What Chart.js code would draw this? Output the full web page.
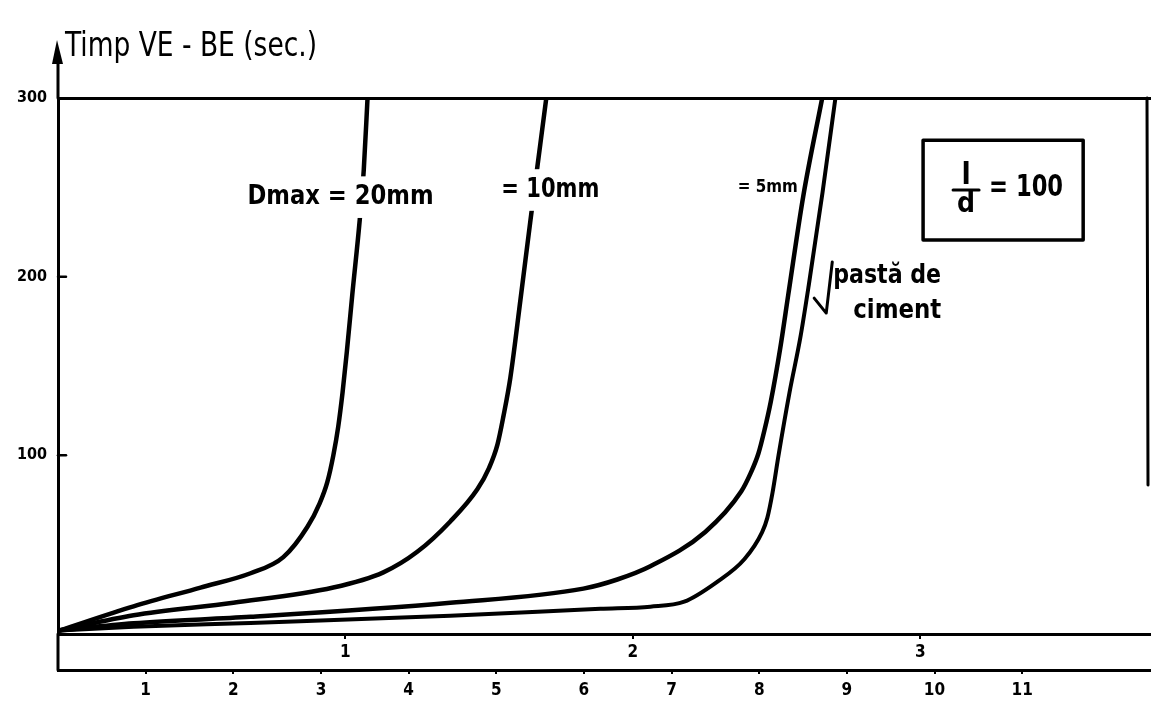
<!DOCTYPE html>
<html>
<head>
<meta charset="utf-8">
<title>Timp VE - BE</title>
<script src="https://cdn.jsdelivr.net/npm/chart.js@4.4.1/dist/chart.umd.min.js"></script>
<style>
  html, body { margin: 0; padding: 0; background: #fff; }
</style>
</head>
<body>
<canvas id="mycanvas" width="1151" height="705"></canvas>
<script>
// upper scale (0..3.8) carries the curves, the lower one is the 1..11 scale
var xTicks = [1, 2, 3];
var x2Ticks = [1, 2, 3, 4, 5, 6, 7, 8, 9, 10, 11];
var yTicks = [100, 200, 300];

var d20x = [0.005, 0.263, 0.496, 0.670, 0.784, 0.868, 0.910, 0.937, 0.958, 0.975, 0.990, 1.005, 1.024, 1.050, 1.064, 1.077];
var d20y = [2, 15.5, 26, 34, 43, 60, 73, 85, 100, 116, 135, 158, 190, 232, 260, 300];

var d10x = [0.005, 0.263, 0.610, 0.958, 1.132, 1.250, 1.365, 1.459, 1.500, 1.529, 1.550, 1.574, 1.609, 1.643, 1.678, 1.699];
var d10y = [2, 10.5, 17.5, 26, 34.5, 46, 63, 81, 93, 106, 122, 143.5, 187, 230.5, 274, 300];

var d5x = [0.005, 0.263, 0.670, 1.365, 1.828, 1.946, 2.061, 2.252, 2.377, 2.410, 2.437, 2.458, 2.480, 2.513, 2.541, 2.593, 2.659];
var d5y = [2, 6, 9.6, 17.5, 25.4, 30.5, 37.9, 57.1, 79.7, 90, 101, 114, 130, 160, 190, 245, 300];

var pastaX = [0.005, 0.263, 0.670, 1.365, 1.887, 2.061, 2.179, 2.290, 2.388, 2.450, 2.468, 2.486, 2.507, 2.545, 2.583, 2.612, 2.660, 2.705];
var pastaY = [2, 4, 6.2, 10.2, 14.1, 15.3, 18.1, 28.8, 41.8, 57, 65, 79, 100, 135, 166, 195, 247, 300];

var FONT = "'DejaVu Sans Condensed', 'DejaVu Sans', sans-serif";

function pts(xs, ys) {
	var out = [];
	for (var i in xs) {
		out.push({ x: xs[i], y: ys[i] });
	}
	return out;
}

function curve(label, xs, ys, w) {
	return {
		label: label,
		data: pts(xs, ys),
		borderColor: "#000",
		borderWidth: w,
		fill: false,
		pointRadius: 0,
		cubicInterpolationMode: 'monotone'
	};
}

// hand written notes, placed in data units
var notes = [
	{ text: "Dmax = 20mm", x: 0.983, y: 244.5, size: 26, w: 186, align: 'center', bg: true },
	{ text: "= 10mm", x: 1.713, y: 248.5, size: 26, w: 98, align: 'center', bg: true },
	{ text: "= 5mm", x: 2.574, y: 249.6, size: 17, w: 60, align: 'right', bg: false },
	{ text: "pastă de", x: 2.697, y: 196.4, size: 27, w: 108, align: 'left', bg: false, base: true },
	{ text: "ciment", x: 2.767, y: 176.8, size: 27, w: 88, align: 'left', bg: false, base: true }
];

var decor = {
	id: 'decor',
	afterDraw: function(chart) {
		var c = chart.ctx, a = chart.chartArea;
		var sx = chart.scales.x, sy = chart.scales.y, sx2 = chart.scales.x2;
		var px = function(v) { return sx.getPixelForValue(v); };
		var py = function(v) { return sy.getPixelForValue(v); };
		c.save();
		c.strokeStyle = "#000";
		c.fillStyle = "#000";
		c.lineCap = 'round';
		c.lineJoin = 'round';

		// y axis runs up to an arrow and down to the lower scale
		c.lineWidth = 3;
		c.beginPath();
		c.moveTo(a.left, 60); c.lineTo(a.left, a.top);
		c.moveTo(a.left, a.bottom); c.lineTo(a.left, sx2.top);
		c.stroke();
		c.beginPath();
		c.moveTo(a.left - 1, 40); c.lineTo(a.left - 6, 64); c.lineTo(a.left + 5, 64);
		c.closePath(); c.fill();

		// small inward ticks on the y axis
		c.lineWidth = 2.5;
		[100, 200].forEach(function(v) {
			c.beginPath(); c.moveTo(a.left, py(v)); c.lineTo(a.left + 8, py(v)); c.stroke();
		});

		// right side of the frame (stops half way)
		c.lineWidth = 3;
		c.beginPath(); c.moveTo(a.right - 4, a.top); c.lineTo(a.right - 3, py(83.4)); c.stroke();

		// title
		c.textAlign = 'left';
		c.textBaseline = 'alphabetic';
		c.font = "34px " + FONT;
		c.fillText("Timp VE - BE (sec.)", 65, 56, 252);

		// notes on the curves
		notes.forEach(function(n) {
			c.font = "bold " + n.size + "px " + FONT;
			var tw = Math.min(c.measureText(n.text).width, n.w);
			var x = px(n.x), y = py(n.y);
			var left = n.align === 'center' ? x - tw / 2 : (n.align === 'right' ? x - tw : x);
			if (n.bg) {
				c.fillStyle = "#fff";
				c.fillRect(left - 4, y - n.size * 0.8, tw + 8, n.size * 1.6);
				c.fillStyle = "#000";
			}
			c.textAlign = 'left';
			c.textBaseline = n.base ? 'alphabetic' : 'middle';
			c.fillText(n.text, left, y, n.w);
		});

		// pointer to the cement paste curve
		c.lineWidth = 3;
		c.beginPath();
		c.moveTo(px(2.694), py(208.2));
		c.lineTo(px(2.673), py(179.6));
		c.lineTo(px(2.631), py(188));
		c.stroke();

		// boxed ratio l/d = 100
		var bx0 = px(3.010), bx1 = px(3.567), by0 = py(276.4), by1 = py(220.5);
		c.lineWidth = 3.5;
		c.strokeRect(bx0, by0, bx1 - bx0, by1 - by0);
		var fx = bx0 + 44, fy = (by0 + by1) / 2;
		c.lineWidth = 3;
		c.beginPath(); c.moveTo(fx - 14, fy); c.lineTo(fx + 12, fy); c.stroke();
		c.textAlign = 'center';
		c.textBaseline = 'alphabetic';
		c.font = "bold 30px " + FONT;
		c.fillText("l", fx - 1, fy - 6);
		c.font = "bold 28px " + FONT;
		c.textBaseline = 'top';
		c.fillText("d", fx - 1, fy + 1);
		c.textAlign = 'left';
		c.textBaseline = 'middle';
		c.font = "bold 30px " + FONT;
		c.fillText("= 100", fx + 22, fy - 2, 74);
		c.restore();
	}
};

var ctx = document.getElementById("mycanvas");

var chart = new Chart(ctx, {
	type: 'line',
	data: {
		datasets: [
			curve("Dmax = 20mm", d20x, d20y, 4.5),
			curve("Dmax = 10mm", d10x, d10y, 4.5),
			curve("Dmax = 5mm", d5x, d5y, 4.5),
			curve("pastă de ciment", pastaX, pastaY, 4)
		]
	},
	options: {
		responsive: false,
		animation: false,
		layout: { padding: { top: 98, right: 0, bottom: 0, left: 0 } },
		plugins: {
			legend: { display: false },
			tooltip: { enabled: false }
		},
		scales: {
			x: {
				type: 'linear',
				position: 'bottom',
				weight: 0,
				min: 0,
				max: 3.803,
				afterBuildTicks: function(s) { s.ticks = xTicks.map(function(v) { return { value: v }; }); },
				afterFit: function(s) { s.height = 36; },
				grid: { drawOnChartArea: false, color: "#000", lineWidth: 2, tickLength: 5 },
				border: { color: "#000", width: 3 },
				ticks: { color: "#000", padding: 3, font: { family: FONT, size: 17, weight: 'bold' } }
			},
			x2: {
				type: 'linear',
				position: 'bottom',
				weight: 1,
				min: 0,
				max: 12.47,
				afterBuildTicks: function(s) { s.ticks = x2Ticks.map(function(v) { return { value: v }; }); },
				afterFit: function(s) { s.height = 35; },
				grid: { drawOnChartArea: false, color: "#000", lineWidth: 2, tickLength: 4 },
				border: { color: "#000", width: 3 },
				ticks: { color: "#000", padding: 6, font: { family: FONT, size: 17, weight: 'bold' } }
			},
			y: {
				type: 'linear',
				min: 0,
				max: 300,
				afterBuildTicks: function(s) { s.ticks = yTicks.map(function(v) { return { value: v }; }); },
				afterFit: function(s) { s.width = 58; },
				grid: {
					drawTicks: false,
					lineWidth: 3,
					color: function(c) { return c.tick && c.tick.value === 300 ? "#000" : "rgba(0,0,0,0)"; }
				},
				border: { color: "#000", width: 3 },
				ticks: { color: "#000", padding: 11, font: { family: FONT, size: 16, weight: 'bold' } }
			}
		}
	},
	plugins: [decor]
});
</script>
</body>
</html>
